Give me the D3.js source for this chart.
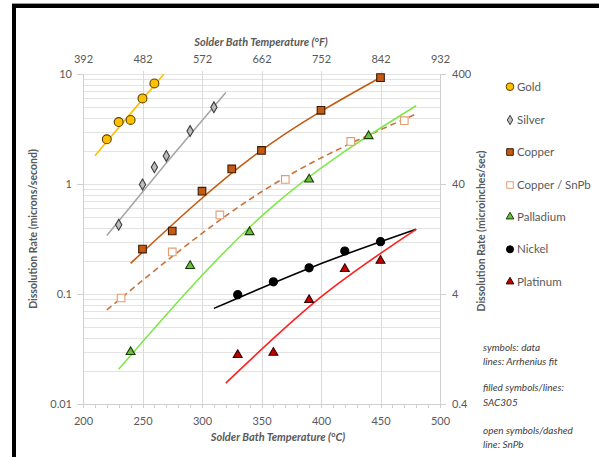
<!DOCTYPE html>
<html><head><meta charset="utf-8">
<script src="https://cdn.jsdelivr.net/npm/d3@7"></script>
<style>
html,body{margin:0;padding:0;background:#fff;}
svg{display:block;font-family:Lato,"Open Sans",sans-serif;}
</style></head>
<body><svg id="c" width="599" height="457"></svg>
<script>
// ---- data ----
const tempTicksC = [200, 250, 300, 350, 400, 450, 500];
const tempLabelsF = ["392", "482", "572", "662", "752", "842", "932"];
const rateTicksLeft = [0.01, 0.1, 1, 10];
const rateTicksRight = [0.4, 4, 40, 400];

const goldT = [220, 230, 240, 250, 260];
const goldV = [2.55, 3.66, 3.82, 6.0, 8.2];
const goldFitT = [210, 239, 268];
const goldFitV = [1.81, 4.25, 10];

const silverT = [230, 250, 260, 270, 290, 310];
const silverV = [0.426, 0.99, 1.42, 1.80, 3.03, 4.98];
const silverFitT = [220, 270, 320];
const silverFitV = [0.34, 1.55, 6.8];

const copperT = [250, 275, 300, 325, 350, 400, 450];
const copperV = [0.256, 0.374, 0.86, 1.37, 2.02, 4.68, 9.27];
const copperFitT = [240, 345, 450];
const copperFitV = [0.19, 1.85, 9.3];

const copperSnPbT = [232, 275, 315, 370, 425, 470];
const copperSnPbV = [0.092, 0.241, 0.523, 1.10, 2.44, 3.76];
const copperSnPbFitT = [220, 350, 480];
const copperSnPbFitV = [0.0716, 0.85, 4.33];

const palladiumT = [240, 290, 340, 390, 440];
const palladiumV = [0.0297, 0.18, 0.366, 1.10, 2.73];
const palladiumFitT = [230, 355, 480];
const palladiumFitV = [0.0207, 0.57, 5.15];

const nickelT = [330, 360, 390, 420, 450];
const nickelV = [0.0985, 0.129, 0.173, 0.246, 0.299];
const nickelFitT = [310, 395, 480];
const nickelFitV = [0.074, 0.18, 0.387];

const platinumT = [330, 360, 390, 420, 450];
const platinumV = [0.0279, 0.0293, 0.0882, 0.169, 0.201];
const platinumFitT = [320, 400, 480];
const platinumFitV = [0.0155, 0.094, 0.387];

const legendNames = ["Gold", "Silver", "Copper", "Copper / SnPb", "Palladium", "Nickel", "Platinum"];
const notes = ["symbols: data", "lines: Arrhenius fit", "filled symbols/lines:", "SAC305", "open symbols/dashed", "line: SnPb"];

// ---- chart ----
const svg = d3.select("#c");
const L = 83, R = 440, T = 74, B = 404;
const x = d3.scaleLinear().domain([200, 500]).range([L, R]);
const y = d3.scaleLog().domain([0.01, 10]).range([B, T]);
const yR = d3.scaleLog().domain([0.4, 400]).range([B, T]);
const txt = "#595959";

// frame (top & left black bars)
svg.append("rect").attr("x", 12).attr("y", 3).attr("width", 587).attr("height", 1).attr("fill", "#999");
svg.append("rect").attr("x", 12).attr("y", 4).attr("width", 587).attr("height", 4).attr("fill", "#000");
svg.append("rect").attr("x", 12).attr("y", 4).attr("width", 4).attr("height", 453).attr("fill", "#000");

// gridlines
const grid = svg.append("g");
const minors = [];
[0.01, 0.1, 1].forEach(d => { for (let k = 1; k <= 9; k++) minors.push(d * k); });
minors.push(10);
grid.selectAll("line.h").data(minors).join("line")
  .attr("x1", L).attr("x2", R).attr("y1", d => Math.round(y(d)) + 0.5).attr("y2", d => Math.round(y(d)) + 0.5)
  .attr("stroke", "#e3e3e3").attr("stroke-width", 1);
grid.selectAll("line.v").data(tempTicksC.slice(1, -1)).join("line")
  .attr("y1", T - 3).attr("y2", B).attr("x1", d => Math.round(x(d)) + 0.5).attr("x2", d => Math.round(x(d)) + 0.5)
  .attr("stroke", "#dadada").attr("stroke-width", 1);

// axes
function styleAxis(g) {
  g.select(".domain").attr("stroke", "#cfcfcf");
  g.selectAll(".tick line").attr("stroke", "#cfcfcf");
  g.selectAll("text").attr("fill", txt).style("font-size", "11px").style("font-family", "Lato, sans-serif");
}
svg.append("g").attr("transform", `translate(0,${B})`)
  .call(d3.axisBottom(x).tickValues(tempTicksC).tickSize(0).tickPadding(13).tickFormat(d3.format("d")))
  .call(styleAxis);
svg.append("g").selectAll("line").data(d3.range(200, 501, 10)).join("line")
  .attr("x1", d => Math.round(x(d)) + 0.5).attr("x2", d => Math.round(x(d)) + 0.5)
  .attr("y1", B).attr("y2", B + 4).attr("stroke", "#cfcfcf");
svg.append("g").attr("transform", `translate(0,${T})`)
  .call(d3.axisTop(x).tickValues(tempTicksC).tickSize(0).tickPadding(11).tickFormat((d, i) => tempLabelsF[i]))
  .call(g => g.select(".domain").remove())
  .call(styleAxis);
svg.append("g").attr("transform", `translate(${L},0)`)
  .call(d3.axisLeft(y).tickValues(rateTicksLeft).tickSize(6).tickPadding(5).tickFormat(d3.format("~g")))
  .call(styleAxis);
svg.append("g").attr("transform", `translate(${R},0)`)
  .call(d3.axisRight(yR).tickValues(rateTicksRight).tickSize(6).tickPadding(6).tickFormat(d3.format("~g")))
  .call(styleAxis);

// titles
svg.append("text").attr("x", 261).attr("y", 46).attr("text-anchor", "middle")
  .attr("fill", txt).style("font-size", "11px").style("font-weight", "bold").style("font-style", "italic")
  .text("Solder Bath Temperature (°F)");
svg.append("text").attr("x", 278).attr("y", 441).attr("text-anchor", "middle")
  .attr("fill", txt).style("font-size", "11px").style("font-weight", "bold").style("font-style", "italic")
  .text("Solder Bath Temperature (°C)");
svg.append("text").attr("transform", "translate(33,229) rotate(-90)").attr("text-anchor", "middle")
  .attr("dominant-baseline", "central").attr("fill", txt).style("font-size", "10.5px").style("font-weight", "bold")
  .text("Dissolution Rate (microns/second)");
svg.append("text").attr("transform", "translate(481,231) rotate(-90)").attr("text-anchor", "middle")
  .attr("dominant-baseline", "central").attr("fill", txt).style("font-size", "10.5px").style("font-weight", "bold")
  .text("Dissolution Rate (microinches/sec)");

svg.append("clipPath").attr("id", "pc").append("rect").attr("x", L).attr("y", T).attr("width", R - L).attr("height", B - T);

const series = [
  {t: goldT, v: goldV, ft: goldFitT, fv: goldFitV, sym: d3.symbolCircle, size: 62, fill: "#FFC000", stroke: "#5a4300", line: "#FFC000", dash: null},
  {t: silverT, v: silverV, ft: silverFitT, fv: silverFitV, sym: d3.symbolDiamond, size: 34, fill: "#bdbdbd", stroke: "#3a3a3a", line: "#A6A6A6", dash: null},
  {t: copperT, v: copperV, ft: copperFitT, fv: copperFitV, sym: d3.symbolSquare, size: 58, fill: "#C55A11", stroke: "#3a1a05", line: "#C55A11", dash: null},
  {t: copperSnPbT, v: copperSnPbV, ft: copperSnPbFitT, fv: copperSnPbFitV, sym: d3.symbolSquare, size: 58, fill: "#fff", stroke: "#E49C72", line: "#C8733A", dash: "6,4"},
  {t: palladiumT, v: palladiumV, ft: palladiumFitT, fv: palladiumFitV, sym: d3.symbolTriangle, size: 34, fill: "#6CC040", stroke: "#1c3a0a", line: "#7FE848", dash: null},
  {t: nickelT, v: nickelV, ft: nickelFitT, fv: nickelFitV, sym: d3.symbolCircle, size: 52, fill: "#000", stroke: "#000", line: "#000", dash: null},
  {t: platinumT, v: platinumV, ft: platinumFitT, fv: platinumFitV, sym: d3.symbolTriangle, size: 34, fill: "#C00000", stroke: "#3a0000", line: "#FF2020", dash: null}
];

const lineGen = d3.line().x(d => x(d[0])).y(d => y(d[1])).curve(d3.curveNatural);
const plot = svg.append("g").attr("clip-path", "url(#pc)");
series.forEach(s => {
  plot.append("path").datum(d3.zip(s.ft, s.fv)).attr("d", lineGen)
    .attr("fill", "none").attr("stroke", s.line).attr("stroke-width", 1.6)
    .attr("stroke-dasharray", s.dash);
});
const pts = svg.append("g");
series.forEach(s => {
  pts.selectAll(null).data(d3.zip(s.t, s.v)).join("path")
    .attr("transform", d => `translate(${x(d[0])},${y(d[1])})`)
    .attr("d", d3.symbol().type(s.sym).size(s.size))
    .attr("fill", s.fill).attr("stroke", s.stroke).attr("stroke-width", 1.1);
});

// legend
const legY = [86.7, 120, 152, 185, 216.7, 249.3, 281.7];
const leg = svg.append("g");
series.forEach((s, i) => {
  leg.append("path").attr("transform", `translate(510,${legY[i]})`)
    .attr("d", d3.symbol().type(s.sym).size(s.size * 0.75))
    .attr("fill", s.fill).attr("stroke", s.stroke).attr("stroke-width", 1);
  leg.append("text").attr("x", 517).attr("y", legY[i]).attr("dy", "0.35em")
    .attr("fill", txt).style("font-size", "11.5px").text(legendNames[i]);
});

// notes
const noteY = [351, 365, 391, 406, 433.5, 447.5];
svg.append("g").selectAll("text").data(notes).join("text")
  .attr("x", 483).attr("y", (d, i) => noteY[i])
  .attr("fill", "#404040").style("font-size", "10px").style("font-style", "italic").text(d => d);
</script></body></html>
